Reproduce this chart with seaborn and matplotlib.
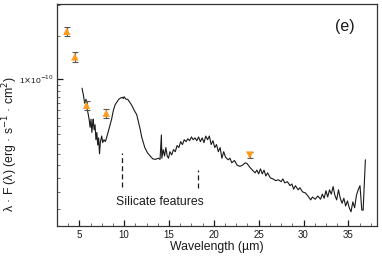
import numpy as np
import pandas as pd
import matplotlib
matplotlib.use("Agg")
import matplotlib.pyplot as plt
import matplotlib.ticker as mticker
import seaborn as sns

# --- Dados ---
# Espectro (comprimento de onda em um, fluxo em unidades de 1e-11 erg s-1 cm-2)
onda = [5.3, 5.45, 5.6, 5.75, 5.9, 6.0, 6.1, 6.2, 6.3, 6.4, 6.5, 6.55, 6.65, 6.75,
        6.85, 6.95, 7.05, 7.15, 7.25, 7.35, 7.5, 7.6, 7.75, 7.9, 8.0, 8.2, 8.4, 8.6,
        8.8, 9.0, 9.2, 9.4, 9.6, 9.8, 9.9, 10.0, 10.2, 10.4, 10.6, 10.8, 11.0, 11.2,
        11.4, 11.6, 11.8, 11.95, 12.1, 12.3, 12.6, 12.9, 13.2, 13.5, 13.8, 14.0, 14.15,
        14.2, 14.35, 14.5, 14.65, 14.8, 14.95, 15.1, 15.3, 15.5, 15.7, 15.9, 16.1, 16.3,
        16.5, 16.7, 16.9, 17.1, 17.3, 17.5, 17.7, 17.9, 18.1, 18.3, 18.5, 18.7, 18.9,
        19.1, 19.3, 19.5, 19.7, 19.9, 20.1, 20.3, 20.5, 20.7, 20.9, 21.1, 21.3, 21.6,
        21.8, 22.0, 22.3, 22.6, 22.9, 23.2, 23.5, 23.7, 24.0, 24.3, 24.6, 24.8, 25.0,
        25.2, 25.4, 25.6, 25.8, 26.0, 26.3, 26.6, 26.9, 27.2, 27.5, 27.7, 27.9, 28.2,
        28.5, 28.7, 28.9, 29.1, 29.4, 29.6, 29.9, 30.2, 30.5, 30.8, 31.0, 31.3, 31.6,
        31.9, 32.1, 32.3, 32.5, 32.7, 32.9, 33.1, 33.3, 33.5, 33.7, 33.9, 34.1, 34.3,
        34.5, 34.7, 34.9, 35.1, 35.3, 35.5, 35.7, 35.9, 36.1, 36.3, 36.5, 36.65, 36.9]
fluxo = [9.2, 8.64, 8.0, 8.3, 7.5, 7.2, 6.85, 6.4, 6.9, 6.1, 6.7, 6.9, 6.25, 6.55,
         5.7, 6.1, 5.43, 5.8, 5.0, 5.6, 5.9, 5.55, 5.7, 5.6, 5.75, 6.1, 6.5, 6.9,
         7.5, 7.9, 8.1, 8.3, 8.4, 8.45, 8.35, 8.5, 8.3, 8.3, 8.1, 7.9, 7.65, 7.4,
         7.2, 6.7, 6.25, 5.85, 5.6, 5.3, 5.05, 4.9, 4.77, 4.75, 4.8, 4.75, 5.96,
         4.8, 5.2, 4.9, 5.3, 4.9, 4.8, 5.1, 4.95, 5.2, 5.1, 5.4, 5.3, 5.6,
         5.45, 5.7, 5.6, 5.75, 5.65, 5.85, 5.7, 5.8, 5.65, 5.85, 5.6, 5.8, 5.55,
         5.9, 5.7, 5.9, 5.45, 5.65, 5.3, 5.45, 5.1, 5.3, 4.8, 5.1, 4.85, 4.73,
         4.8, 4.6, 4.7, 4.5, 4.45, 4.5, 4.6, 4.57, 4.42, 4.3, 4.19, 4.3, 4.15,
         4.35, 4.15, 4.3, 4.07, 4.19, 4.0, 3.96, 3.9, 3.93, 3.86, 3.96, 3.82, 3.86,
         3.72, 3.78, 3.6, 3.72, 3.58, 3.65, 3.51, 3.48, 3.38, 3.26, 3.35, 3.28, 3.38,
         3.28, 3.44, 3.31, 3.55, 3.35, 3.58, 3.44, 3.69, 3.4, 3.26, 3.58, 3.31, 3.16,
         3.31, 3.08, 3.23, 3.03, 2.92, 3.2, 3.03, 3.4, 3.58, 3.72, 2.97, 2.96, 4.73]

# Fotometria (IRAC + MIPS)
foto_onda = [3.6, 4.5, 5.8, 8.0]
foto_fluxo = [15.6, 12.3, 7.85, 7.29]
foto_erro = [0.7, 0.55, 0.35, 0.3]
mips_onda = [24.0]
mips_fluxo = [4.94]
mips_erro = [0.14]

# Marcas das bandas de silicato: posição e extremos (1e-11)
silicato_onda = [9.8, 18.2]
silicato_topo = [5.05, 4.31]
silicato_base = [3.68, 3.65]

ESCALA = 1e-11

df_espectro = pd.DataFrame({"onda": onda, "fluxo": np.array(fluxo) * ESCALA})
df_foto = pd.DataFrame({"onda": foto_onda, "fluxo": np.array(foto_fluxo) * ESCALA,
                        "erro": np.array(foto_erro) * ESCALA})
df_mips = pd.DataFrame({"onda": mips_onda, "fluxo": np.array(mips_fluxo) * ESCALA,
                        "erro": np.array(mips_erro) * ESCALA})

# --- Estilo ---
sns.set_theme(style="ticks")
plt.rcParams['font.family'] = ['Liberation Sans', 'DejaVu Sans']

fig = plt.figure(figsize=(3.82, 2.68), dpi=100)
ax = fig.add_axes([0.149, 0.157, 0.838, 0.828])

sns.lineplot(data=df_espectro, x="onda", y="fluxo", sort=False, estimator=None,
             color="#1a1a1a", linewidth=0.8, ax=ax)

ax.errorbar(df_foto["onda"], df_foto["fluxo"], yerr=df_foto["erro"], fmt="none",
            ecolor="#555555", elinewidth=0.8, capsize=2.2, capthick=0.8, zorder=3)
ax.errorbar(df_mips["onda"], df_mips["fluxo"], yerr=df_mips["erro"], fmt="none",
            ecolor="#555555", elinewidth=0.8, capsize=2.2, capthick=0.8, zorder=3)
sns.scatterplot(data=df_foto, x="onda", y="fluxo", marker="^", s=28,
                color="#ff9a1a", edgecolor="none", ax=ax, zorder=4)
sns.scatterplot(data=df_mips, x="onda", y="fluxo", marker="v", s=28,
                color="#ff9a1a", edgecolor="none", ax=ax, zorder=4)

# Marcas de silicato
ax.vlines(silicato_onda, np.array(silicato_base) * ESCALA, np.array(silicato_topo) * ESCALA,
          colors="#1a1a1a", linestyles=(0, (4, 2.5)), linewidth=0.9)
ax.text(14.0, 3.19e-11, "Silicate features", fontsize=8.8, ha="center", va="center",
        color="#1a1a1a")
ax.text(0.93, 0.9, "(e)", transform=ax.transAxes, fontsize=11.5, ha="right", va="center",
        color="#1a1a1a")

# --- Eixos ---
ax.set_yscale("log")
ax.set_xlim(2.5, 38.2)
ax.set_ylim(2.56e-11, 2.01e-10)

ax.xaxis.set_major_locator(mticker.MultipleLocator(5))
ax.xaxis.set_minor_locator(mticker.MultipleLocator(1.25))
ax.xaxis.set_major_formatter(mticker.FuncFormatter(lambda v, p: f"{v:g}"))

ax.yaxis.set_major_locator(mticker.FixedLocator([1e-10]))
menores = [k * 5e-12 for k in range(6, 20)] + [1.5e-10, 2.0e-10]
ax.yaxis.set_minor_locator(mticker.FixedLocator(menores))
ax.yaxis.set_major_formatter(mticker.FixedFormatter([r"1$\times$10$^{-10}$"]))
ax.yaxis.set_minor_formatter(mticker.NullFormatter())

ax.tick_params(axis="both", which="major", direction="in", length=4, width=0.9,
               color="#1a1a1a", labelsize=7, labelcolor="#1a1a1a", pad=3)
ax.tick_params(axis="both", which="minor", direction="in", length=2, width=0.6,
               color="#555555")
ax.tick_params(axis="y", which="major", labelsize=6, pad=2)

for lado in ax.spines.values():
    lado.set_visible(True)
    lado.set_linewidth(0.9)
    lado.set_color("#333333")

ax.set_xlabel("Wavelength (µm)", fontsize=8.8, color="#1a1a1a", labelpad=1)
ax.set_ylabel(r"λ · F (λ) (erg · s$^{-1}$ · cm$^{2}$)", fontsize=8.8, color="#1a1a1a")
ax.yaxis.set_label_coords(-0.115, 0.37)

fig.savefig("out.png", dpi=100)
